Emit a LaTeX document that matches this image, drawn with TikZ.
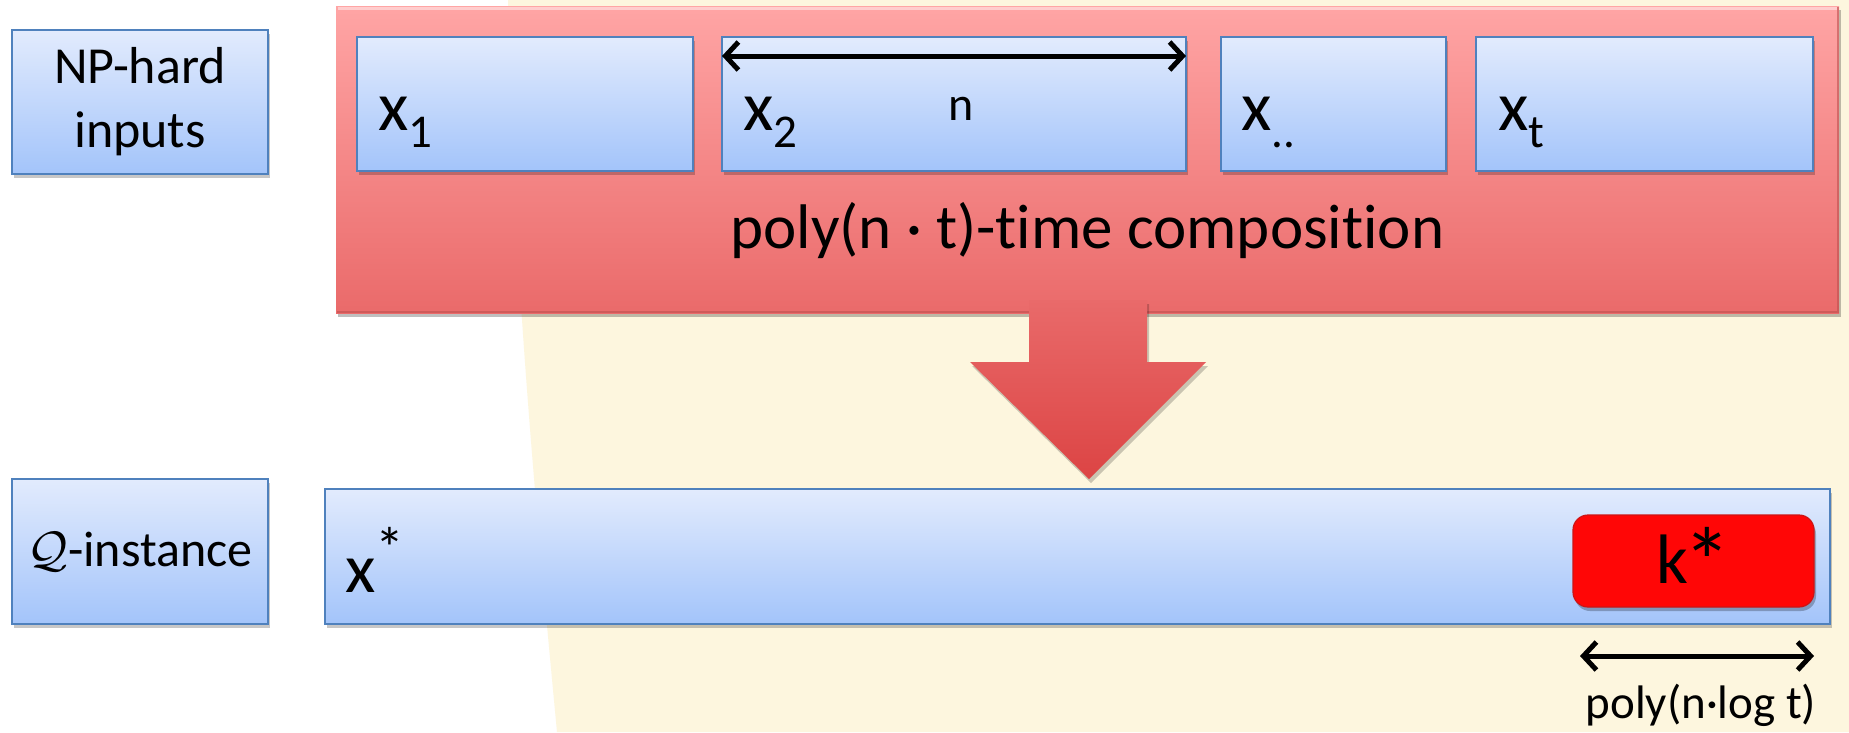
\documentclass[tikz,border=0pt]{standalone}
\usepackage{fontspec}
\setmainfont{Carlito}[Ligatures=NoCommon]
\usetikzlibrary{shadows,arrows.meta}
\definecolor{cream}{RGB}{253,246,222}
\definecolor{bluetop}{RGB}{226,235,253}
\definecolor{bluebot}{RGB}{163,196,250}
\definecolor{blueline}{RGB}{79,129,189}
\definecolor{redtop}{RGB}{255,165,165}
\definecolor{redmid}{RGB}{255,140,140}
\definecolor{redbot}{RGB}{234,106,106}
\definecolor{rededge}{RGB}{190,80,80}
\definecolor{arrtop}{RGB}{233,106,106}
\definecolor{arrbot}{RGB}{220,68,68}
\definecolor{kred}{RGB}{255,6,6}
\definecolor{kedge}{RGB}{205,20,20}
\newcommand\myfs[2]{\fontsize{#1pt}{#2pt}\selectfont}
\begin{document}
\begin{tikzpicture}[x=1pt,y=-1pt,
  bluebox/.style={draw=blueline, line width=2pt, top color=bluetop, bottom color=bluebot,
    inner sep=0pt, drop shadow={shadow xshift=2pt, shadow yshift=-4pt, opacity=0.22, fill=black}},
  redbox/.style={top color=redtop, middle color=redmid, bottom color=redbot, inner sep=0pt,
    drop shadow={shadow xshift=2pt, shadow yshift=-4pt, opacity=0.25, fill=black}},
  kbox/.style={draw=kedge, line width=1.2pt, fill=kred, rounded corners=15pt, inner sep=0pt,
    drop shadow={shadow xshift=2pt, shadow yshift=-4pt, opacity=0.25, fill=black}},
  bigarrow/.style={top color=arrtop, bottom color=arrbot,
    drop shadow={shadow xshift=2pt, shadow yshift=-4pt, opacity=0.2, fill=black}},
  dimarrow/.style={<->, line width=5pt, >={Straight Barb[length=13pt,width=28pt]}},
  lbl/.style={anchor=base west, inner sep=0pt},
]
\useasboundingbox (0,0) rectangle (1849,732);
\fill[white] (0,0) rectangle (1849,732);
% cream background
\fill[cream] (508,0) .. controls (512,250) and (535,500) .. (557,732) -- (1849,732) -- (1849,0) -- cycle;

% left label boxes
\node[bluebox, minimum width=256pt, minimum height=144pt, align=center, font=\myfs{52}{64}] (np) at (140,102) {NP-hard\\inputs};
\node[bluebox, minimum width=256pt, minimum height=145pt, font=\myfs{50}{60}] (qi) at (140,551.5) {\scalebox{2.0}{$\mathcal{Q}$}-instance};

% composition box
\node[redbox, minimum width=1503pt, minimum height=307pt] (comp) at (1087.5,159.5) {};
\draw[white, opacity=0.45, line width=3pt] (338,8) -- (1837,8);
\draw[rededge, opacity=0.6, line width=2.5pt] (1838,7) -- (1838,312) -- (337,312);

% input boxes
\node[bluebox, minimum width=336pt, minimum height=134pt] (b1) at (525,104) {};
\node[bluebox, minimum width=464pt, minimum height=134pt] (b2) at (954,104) {};
\node[bluebox, minimum width=225pt, minimum height=134pt] (b3) at (1333.5,104) {};
\node[bluebox, minimum width=337pt, minimum height=134pt] (b4) at (1644.5,104) {};

\node[lbl] (l1) at (378,130) {\myfs{70}{84}x\raisebox{-17pt}{\myfs{47}{56}1}};
\node[lbl] (l2) at (743,130) {\myfs{70}{84}x\raisebox{-17pt}{\myfs{47}{56}2}};
\node[lbl] (l3) at (1241,130) {\myfs{70}{84}x\raisebox{-17pt}{\myfs{47}{56}..}};
\node[lbl] (l4) at (1498,130) {\myfs{70}{84}x\raisebox{-17pt}{\myfs{47}{56}t}};

\coordinate (na) at (722,56);
\coordinate (nb) at (1186,56);
\draw[dimarrow] (na) -- (nb);
\node[anchor=base, inner sep=0pt, font=\myfs{48}{58}] (nl) at (961,120) {n};

\node[anchor=base, inner sep=0pt, font=\myfs{63}{76}] (ct) at (1087.5,248) {poly(n · t)-time composition};

% output instance
\node[bluebox, minimum width=1505pt, minimum height=135pt] (xs) at (1077.5,556.5) {};
\node[lbl] (lx) at (345,592) {\myfs{70}{84}x\raisebox{24pt}{\myfs{58}{60}*}};
\node[kbox, minimum width=241pt, minimum height=92pt, font=\myfs{70}{84}] (ks) at (1693.5,561) {k\kern-5pt\raisebox{-12pt}{\myfs{96}{96}*}};

% big arrow
\path[bigarrow] (1029,300) -- (1147,300) -- (1147,362) -- (1206,362) -- (1089,479) -- (970,362) -- (1029,362) -- cycle;

% size arrow
\coordinate (ka) at (1580,656);
\coordinate (kb) at (1814,656);
\draw[dimarrow] (ka) -- (kb);
\node[anchor=base, inner sep=0pt, font=\myfs{47}{56}] (kl) at (1701,718) {poly(n·log t)};
\end{tikzpicture}
\end{document}
